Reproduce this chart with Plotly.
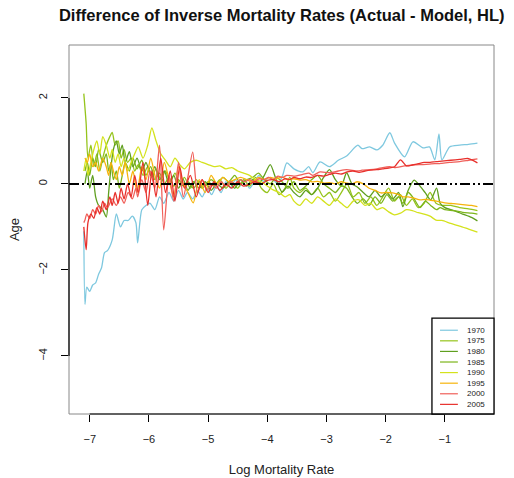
import plotly.graph_objects as go

# Log mortality rate grids used by the different cohorts
log_rate_a = [-7.08, -7.04, -7.00, -6.95, -6.90, -6.85, -6.78, -6.72, -6.68, -6.64,
              -6.60, -6.55, -6.50, -6.45, -6.40, -6.33, -6.27, -6.20, -6.12, -6.05,
              -5.97, -5.90, -5.82, -5.74, -5.66, -5.58, -5.50, -5.42, -5.34, -5.25,
              -5.15, -5.05, -4.95, -4.85, -4.75, -4.65, -4.55, -4.45, -4.35, -4.25,
              -4.15, -4.05, -3.95, -3.85, -3.75, -3.65, -3.55, -3.45, -3.35, -3.25,
              -3.15, -3.05, -2.95, -2.85, -2.75, -2.66, -2.57, -2.48, -2.38, -2.28,
              -2.18, -2.08, -1.98, -1.88, -1.78, -1.71, -1.62, -1.52, -1.42, -1.33,
              -1.24, -1.14, -1.08, -1.00, -0.85, -0.70, -0.55, -0.45]

log_rate_b = [-7.10, -7.08, -7.05, -7.00, -6.95, -6.90, -6.85, -6.80, -6.75, -6.70,
              -6.62, -6.55, -6.48, -6.42, -6.35, -6.28, -6.22, -6.19, -6.12, -6.05,
              -5.98, -5.90, -5.82, -5.75, -5.66, -5.58, -5.50, -5.42, -5.35, -5.26,
              -5.18, -5.10, -5.02, -4.94, -4.86, -4.78, -4.70, -4.62, -4.54, -4.46,
              -4.38, -4.30, -4.22, -4.14, -4.06, -3.98, -3.90, -3.82, -3.74, -3.67,
              -3.55, -3.40, -3.30, -3.23, -3.11, -2.95, -2.80, -2.66, -2.47, -2.40,
              -2.27, -2.15, -2.05, -1.93, -1.85, -1.68, -1.54, -1.37, -1.26, -1.17,
              -1.10, -1.05, -0.92, -0.75, -0.60, -0.45]

log_rate_c = [-7.10, -7.06, -7.03, -6.98, -6.93, -6.88, -6.83, -6.78, -6.72, -6.66,
              -6.62, -6.57, -6.52, -6.47, -6.42, -6.36, -6.30, -6.24, -6.18, -6.10,
              -6.02, -5.95, -5.88, -5.80, -5.72, -5.64, -5.56, -5.48, -5.40, -5.30,
              -5.20, -5.10, -5.00, -4.90, -4.80, -4.70, -4.60, -4.50, -4.40, -4.30,
              -4.20, -4.10, -4.00, -3.90, -3.80, -3.70, -3.62, -3.55, -3.45, -3.35,
              -3.25, -3.15, -3.05, -2.95, -2.85, -2.75, -2.65, -2.55, -2.45, -2.35,
              -2.25, -2.15, -2.05, -1.95, -1.85, -1.75, -1.65, -1.55, -1.45, -1.35,
              -1.25, -1.15, -1.05, -0.90, -0.75, -0.60, -0.45]

# Difference (actual - model) of inverse mortality, per cohort year
diff_1970 = [-1.1, -2.8, -2.4, -2.5, -2.35, -2.3, -2.1, -1.95, -1.6, -1.55,
             -1.3, -0.7, -1.0, -0.85, -0.85, -0.75, -0.9, -1.37, -0.6, -0.5,
             -0.45, -0.6, -0.3, -0.45, -0.2, -0.4, -0.15, -0.35, -0.2, -0.35,
             -0.15, -0.3, -0.1, -0.25, -0.05, -0.2, 0.05, -0.1, 0.1, -0.05,
             0.1, -0.1, 0.05, 0.2, 0.05, 0.15, 0.1, 0.0, 0.2, 0.49,
             0.35, 0.28, 0.4, 0.26, 0.51, 0.4, 0.55, 0.65, 0.9, 0.82,
             0.86, 0.79, 0.9, 1.19, 0.95, 0.63, 0.98, 0.84, 0.86, 0.56,
             1.16, 0.56, 0.86, 0.9, 0.92, 0.95]

diff_1975 = [2.1, 1.4, 0.6, 0.9, 0.4, 0.7, 0.3, 0.6, 0.9, 1.1,
             1.2, 0.9, 1.0, 0.6, 0.8, 0.5, 0.6, 0.3, 0.45, 0.2,
             0.4, 0.15, 0.35, 0.1, 0.3, 0.05, 0.25, 0.0, 0.15, -0.1,
             0.1, -0.1, 0.05, -0.05, 0.1, -0.1, 0.05, -0.1, 0.1, -0.05,
             0.15, -0.1, -0.2, 0.0, -0.25, -0.1, 0.15, -0.1, -0.2, -0.1,
             -0.25, -0.1, -0.3, -0.2, -0.4, -0.2, 0.0, -0.3, -0.2, -0.45,
             -0.3, -0.5, -0.3, -0.1, -0.4, -0.25, -0.5, -0.35, -0.55, -0.45,
             -0.2, -0.45, -0.5, -0.5, -0.55, -0.58, -0.62]

diff_1980 = [0.0, 0.3, -0.1, 0.2, -0.3, -0.5, -0.6, -0.77, -0.2, 0.4,
             0.8, 1.0, 0.7, 0.9, 0.5, 0.75, 0.4, 0.6, 0.3, 0.5,
             0.2, 0.4, 0.1, 0.3, 0.0, 0.2, -0.1, 0.1, -0.15, 0.05,
             -0.1, 0.05, -0.15, 0.0, -0.1, 0.05, -0.1, 0.1, -0.05, 0.1,
             0.0, 0.2, 0.45, 0.1, -0.19, -0.05, -0.2, -0.3, -0.15, -0.25,
             -0.1, 0.15, 0.33, 0.1, -0.05, 0.26, 0.0, -0.07, -0.2, -0.3,
             -0.15, -0.3, -0.2, -0.35, -0.2, -0.53, -0.15, 0.09, -0.05, -0.21,
             -0.37, -0.1, -0.45, -0.55, -0.62, -0.7, -0.78, -0.86]

diff_1985 = [0.3, 0.5, 0.2, 0.6, 0.4, 0.8, 0.5, 0.7, 0.3, 0.5,
             0.1, 0.3, -0.1, 0.2, 0.5, 0.3, 0.6, 0.35, 0.55, 0.2,
             0.4, 0.1, 0.25, 0.0, 0.15, -0.05, 0.1, -0.05, 0.05, -0.1,
             0.05, -0.05, 0.1, 0.0, 0.15, 0.05, 0.2, 0.0, 0.1, 0.15,
             0.25, 0.1, 0.0, 0.15, 0.05, -0.1, 0.05, -0.15, -0.05, 0.1,
             0.2, 0.0, -0.1, -0.2, -0.05, -0.1, -0.3, -0.45, -0.35, -0.5,
             -0.3, -0.45, -0.25, -0.4, -0.3, -0.45, -0.2, -0.35, -0.55, -0.4,
             -0.5, -0.6, -0.55, -0.6, -0.62, -0.66, -0.68, -0.7]

diff_1990 = [0.3, 0.6, 0.2, 0.5, 0.8, 1.0, 0.7, 1.1, 0.9, 0.6,
             0.8, 0.5, 0.7, 0.4, 0.6, 0.3, 0.5, 0.7, 0.86, 0.6,
             0.9, 1.3, 1.0, 0.7, 0.55, 0.4, 0.6, 0.45, 0.35, 0.5,
             0.55, 0.5, 0.45, 0.4, 0.42, 0.35, 0.38, 0.3, 0.25, 0.2,
             0.1, 0.05, -0.05, -0.14, -0.2, -0.3, -0.25, -0.4, -0.5, -0.35,
             -0.45, -0.3, -0.4, -0.5, -0.35, -0.45, -0.55, -0.4, -0.37, -0.5,
             -0.45, -0.6, -0.55, -0.65, -0.72, -0.68, -0.6, -0.62, -0.67, -0.7,
             -0.75, -0.84, -0.85, -0.92, -0.98, -1.05, -1.12]

diff_1995 = [0.6, 0.5, 0.7, 0.4, 0.5, 0.3, 0.6, 0.4, 0.2, 0.5,
             0.3, 0.1, 0.4, 0.2, 0.5, 0.0, 0.3, -0.2, 0.4, 0.1,
             0.6, 0.2, -0.1, 0.5, 0.1, -0.3, 0.4, 0.0, -0.2, -0.44,
             0.1, -0.2, 0.2, 0.0, 0.15, 0.05, 0.1, 0.15, 0.1, 0.05,
             0.15, 0.1, 0.15, 0.12, 0.16, 0.1, 0.12, 0.09, 0.1, 0.05,
             0.06, 0.02, 0.03, 0.0, 0.05, 0.02, 0.0, 0.05, 0.0, -0.1,
             -0.15, -0.21, -0.2, -0.21, -0.25, -0.3, -0.3, -0.33, -0.37, -0.36,
             -0.38, -0.4, -0.42, -0.44, -0.46, -0.48, -0.5, -0.53]

diff_2000 = [-0.9, -0.84, -0.7, -0.8, -0.6, -0.7, -0.5, -0.65, -0.45, -0.55,
             -0.35, -0.5, -0.3, -0.45, -0.2, -0.35, -0.1, -0.3, 0.1, -0.2,
             0.3, -0.1, 0.9, -1.07, 0.2, -0.4, 0.5, -0.3, 0.1, 0.74,
             -0.2, 0.1, -0.15, 0.0, -0.1, 0.05, -0.05, 0.05, 0.0, 0.1,
             0.05, 0.1, 0.05, 0.12, 0.1, 0.15, 0.1, 0.18, 0.15, 0.2,
             0.18, 0.22, 0.25, 0.2, 0.28, 0.26, 0.3, 0.33, 0.3, 0.32,
             0.33, 0.35, 0.38, 0.4, 0.38, 0.42, 0.44, 0.45, 0.46, 0.47,
             0.47, 0.48, 0.5, 0.52, 0.55, 0.58]

diff_2005 = [-1.0, -1.53, -0.9, -0.7, -0.8, -0.55, -0.7, -0.4, -0.6, -0.3,
             -0.5, -0.2, -0.45, -0.1, -0.35, 0.0, -0.3, 0.2, -0.2, 0.5,
             -0.5, 0.3, -0.3, 0.6, -0.2, 0.3, -0.4, 0.4, -0.1, 0.2,
             -0.3, 0.1, -0.2, 0.05, -0.15, 0.0, -0.1, 0.05, -0.05, 0.0,
             0.05, 0.0, 0.08, 0.1, 0.05, 0.12, 0.1, 0.15, 0.12, 0.16,
             0.15, 0.2, 0.18, 0.22, 0.25, 0.23, 0.28, 0.3, 0.27, 0.3,
             0.32, 0.33, 0.35, 0.37, 0.4, 0.56, 0.42, 0.44, 0.47, 0.5,
             0.5, 0.52, 0.53, 0.55, 0.57, 0.59, 0.49]

years = ["1970", "1975", "1980", "1985", "1990", "1995", "2000", "2005"]
series_x = [log_rate_b, log_rate_c, log_rate_a, log_rate_a,
            log_rate_c, log_rate_a, log_rate_b, log_rate_c]
series_y = [diff_1970, diff_1975, diff_1980, diff_1985,
            diff_1990, diff_1995, diff_2000, diff_2005]
colors = ["#7ec8df", "#95c41c", "#5f9f1f", "#7cb51b",
          "#d4e21c", "#f6b40c", "#f0605a", "#e8302c"]

x_ticks = [-7, -6, -5, -4, -3, -2, -1]
y_ticks = [-4, -2, 0, 2]
x_range = [-7.35, -0.17]
y_range = [-5.35, 3.23]

fig = go.Figure()
for name, xs, ys, col in zip(years, series_x, series_y, colors):
    fig.add_trace(go.Scatter(x=xs, y=ys, mode="lines", name=name,
                             line=dict(color=col, width=1.3, shape="spline",
                                       smoothing=0.7),
                             showlegend=False))

shapes = []
# plot frame
shapes.append(dict(type="rect", xref="paper", yref="paper", x0=0, x1=1, y0=0, y1=1,
                   line=dict(color="#888888", width=1), layer="above"))
# zero reference line
shapes.append(dict(type="line", xref="paper", yref="y", x0=0, x1=1, y0=0, y1=0,
                   line=dict(color="black", width=2,
                             dash="10px,3px,2px,3px,2px,3px")))
# R-style axis lines spanning the tick range
shapes.append(dict(type="line", xref="x", yref="paper", x0=x_ticks[0], x1=x_ticks[-1],
                   y0=0, y1=0, line=dict(color="black", width=1.2), layer="above"))
shapes.append(dict(type="line", xref="paper", yref="y", x0=0, x1=0,
                   y0=y_ticks[0], y1=y_ticks[-1], line=dict(color="black", width=1.2),
                   layer="above"))

# legend box in the lower-right corner
leg_x0, leg_x1, leg_y0, leg_y1 = 0.854, 1.0, 0.0, 0.26
shapes.append(dict(type="rect", xref="paper", yref="paper", x0=leg_x0, x1=leg_x1,
                   y0=leg_y0, y1=leg_y1, fillcolor="white",
                   line=dict(color="black", width=1.3), layer="above"))
annotations = []
row_top = 0.227
row_step = 0.0287
for i, (name, col) in enumerate(zip(years, colors)):
    yy = row_top - i * row_step
    shapes.append(dict(type="line", xref="paper", yref="paper", x0=0.873, x1=0.915,
                       y0=yy, y1=yy, line=dict(color=col, width=1.2), layer="above"))
    annotations.append(dict(xref="paper", yref="paper", x=0.932, y=yy, text=name,
                            showarrow=False, xanchor="left", yanchor="middle",
                            font=dict(size=8, color="#222",
                                      family="Liberation Sans, Arial")))

fig.update_layout(
    width=514, height=478,
    margin=dict(l=69, r=20, t=45, b=64),
    paper_bgcolor="white", plot_bgcolor="white",
    font=dict(family="Liberation Sans, Arial, sans-serif", color="#222", size=11),
    title=dict(text="<b>Difference of Inverse Mortality Rates (Actual - Model, HL)</b>",
               x=0.548, xanchor="center", y=0.969, yanchor="middle",
               font=dict(size=16.5, color="#111")),
    xaxis=dict(range=x_range, tickvals=x_ticks, ticks="outside", ticklen=7,
               tickcolor="black", showgrid=False, zeroline=False, showline=False,
               automargin=False,
               title=dict(text="Log Mortality Rate", standoff=20),
               ticklabelstandoff=8),
    yaxis=dict(range=y_range, tickvals=y_ticks, ticks="outside", ticklen=7,
               tickcolor="black", showgrid=False, zeroline=False, showline=False,
               automargin=False,
               tickangle=-90, title=dict(text="Age", standoff=14),
               ticklabelstandoff=10),
    shapes=shapes,
    annotations=annotations,
)

fig.write_html("out.html")
